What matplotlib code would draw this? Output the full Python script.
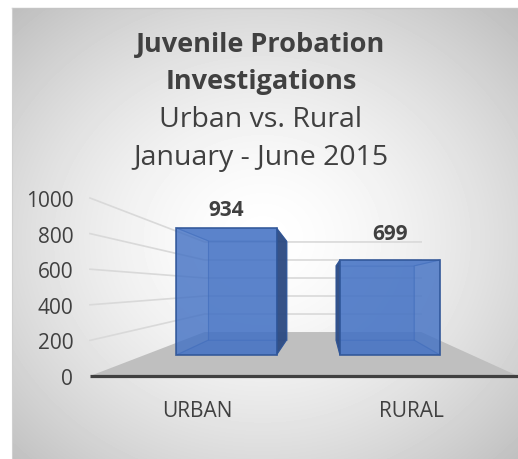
import numpy as np
import matplotlib.pyplot as plt
from matplotlib.patches import Polygon

categories = ["URBAN", "RURAL"]
values = [934, 699]
y_ticks = [0, 200, 400, 600, 800, 1000]
title_lines = ["Juvenile Probation", "Investigations"]
subtitle_lines = ["Urban vs. Rural", "January - June 2015"]

plt.rcParams["font.family"] = ["Open Sans", "DejaVu Sans"]
text_color = "#404040"

W, H = 518, 460
fig = plt.figure(figsize=(W / 100, H / 100), dpi=100)

# background: radial grey gradient inside the chart frame
bg = fig.add_axes([0, 0, 1, 1], zorder=0)
bg.set_xlim(0, W)
bg.set_ylim(H, 0)
bg.axis("off")
yy, xx = np.mgrid[0:H, 0:W]
d = np.sqrt(((xx - 262) / 330) ** 2 + ((yy - 240) / 290) ** 2)
shade = 1 - 0.22 * np.clip(d, 0, 1.1) ** 1.6
shade[:, :12] = 1
shade[:9, :] = 1
bg.imshow(shade, cmap="gray", vmin=0, vmax=1, extent=(0, W, H, 0), aspect="auto")
bg.plot([12, W], [9, 9], color="#c4c4c4", lw=1)
bg.plot([12, 12], [9, H], color="#d0d0d0", lw=0.8)

# title
fig.text(261 / W, 1 - 45 / H, title_lines[0], ha="center", va="center",
         fontsize=19.5, fontweight="bold", color=text_color)
fig.text(261 / W, 1 - 82 / H, title_lines[1], ha="center", va="center",
         fontsize=19.5, fontweight="bold", color=text_color)
fig.text(261 / W, 1 - 120 / H, subtitle_lines[0], ha="center", va="center",
         fontsize=20.5, color=text_color)
fig.text(261 / W, 1 - 158 / H, subtitle_lines[1], ha="center", va="center",
         fontsize=20.5, color=text_color)

# plot axes = front plane of the 3D box
ax = fig.add_axes([90 / W, 1 - 377 / H, 428 / W, 178 / H], zorder=1)
ax.set_xlim(0, len(categories))
ax.set_ylim(0, 1000)
ax.patch.set_visible(False)
for s in ax.spines.values():
    s.set_visible(False)

# simple perspective: vanishing point and shrink with depth t (0 front, 1 back)
vx, vy = 1.084, 500


def proj(x, v, t):
    k = 1 - 0.494 * t
    return vx + (x - vx) * k, vy + (v - vy) * k


def poly(pts, z=3, **kw):
    ax.add_patch(Polygon([proj(*p) for p in pts], closed=True, clip_on=False,
                         zorder=z, **kw))


n = len(categories)
# floor
poly([(0, 0, 0), (n, 0, 0), (n, 0, 1), (0, 0, 1)], z=0.5,
     facecolor="#bfbfbf", edgecolor="none")

# gridlines on side wall and back wall
for v in y_ticks[1:]:
    a, b, c = proj(0, v, 0), proj(0, v, 1), proj(n, v, 1)
    ax.plot([a[0], b[0], c[0]], [a[1], b[1], c[1]], color="#d9d9d9", lw=1.2,
            clip_on=False, zorder=1)

# category axis line
ax.plot([0, n], [0, 0], color="#404040", lw=2.3, clip_on=False,
        solid_capstyle="butt", zorder=2)

# bars
half_w = 0.306
t1, t2 = 0.478, 0.818
edge = "#2f5597"
for i, v in enumerate(values):
    xc = i + 0.5
    xl, xr = xc - half_w, xc + half_w
    # back face
    poly([(xl, 0, t2), (xr, 0, t2), (xr, v, t2), (xl, v, t2)],
         facecolor="#4472c4", alpha=0.3, edgecolor=edge, lw=0.8)
    # top and bottom
    poly([(xl, v, t1), (xr, v, t1), (xr, v, t2), (xl, v, t2)],
         facecolor="#4472c4", alpha=0.3, edgecolor=edge, lw=0.8)
    poly([(xl, 0, t1), (xr, 0, t1), (xr, 0, t2), (xl, 0, t2)],
         facecolor="#4472c4", alpha=0.3, edgecolor=edge, lw=0.8)
    # sides: the one facing the viewer is darker
    for xs in (xl, xr):
        visible = (xs == xr and xc < vx) or (xs == xl and xc > vx)
        poly([(xs, 0, t1), (xs, v, t1), (xs, v, t2), (xs, 0, t2)],
             facecolor="#2e4b82" if visible else "none", alpha=0.95 if visible else 0.5,
             edgecolor=edge, lw=0.8)
    # front face
    poly([(xl, 0, t1), (xr, 0, t1), (xr, v, t1), (xl, v, t1)], z=4,
         facecolor="#4472c4", alpha=0.82, edgecolor=edge, lw=1.3)
    # value label
    fx, _ = proj(xc, v, t1)
    _, by = proj(xc, v, t2)
    ax.annotate(str(v), xy=(fx, by), xytext=(0, 23), textcoords="offset points",
                ha="center", va="center", fontsize=15, fontweight="bold",
                color=text_color, annotation_clip=False, zorder=5)

ax.set_yticks(y_ticks)
ax.set_xticks([i + 0.5 for i in range(n)], categories)
ax.tick_params(axis="y", length=0, pad=12, labelsize=15, labelcolor=text_color)
ax.tick_params(axis="x", length=0, pad=17, labelsize=15, labelcolor=text_color)

fig.savefig("out.png", dpi=100)
